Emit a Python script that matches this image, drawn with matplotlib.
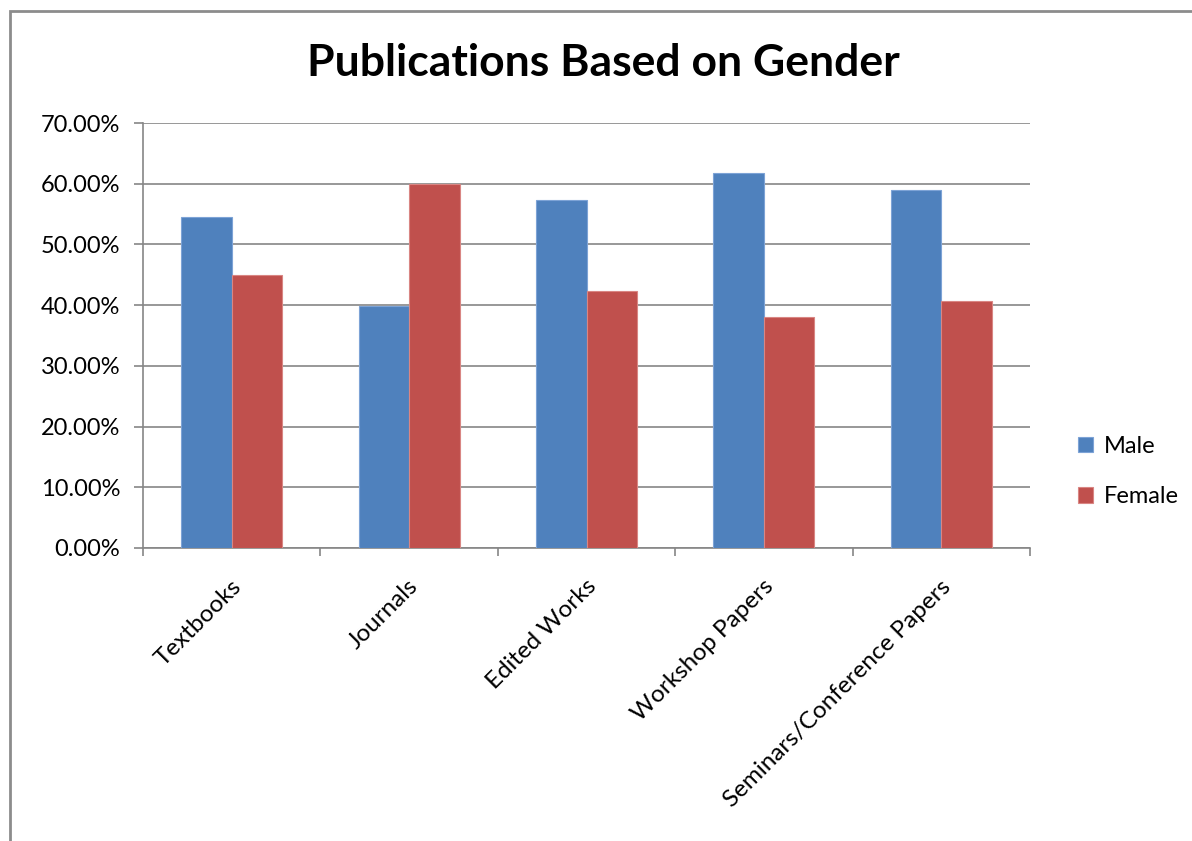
import matplotlib
matplotlib.use("Agg")
import matplotlib.pyplot as plt
import numpy as np
from matplotlib.patches import Rectangle
from matplotlib.ticker import FuncFormatter, MultipleLocator

categories = ["Textbooks", "Journals", "Edited Works", "Workshop Papers", "Seminars/Conference Papers"]
male = [54.6, 39.8, 57.4, 61.7, 59.0]
female = [45.0, 60.0, 42.3, 38.0, 40.7]

BLUE = "#4F81BD"
RED = "#C0504D"
GRID = "#868686"

plt.rcParams["font.family"] = ["Lato", "DejaVu Sans"]

fig = plt.figure(figsize=(11.92, 8.41), dpi=100)
W, H = 1192, 841
ax = fig.add_axes([143 / W, 1 - 548 / H, (1030 - 143) / W, (548 - 123) / H])

# outer chart border
fig.patches.append(Rectangle((10 / W, -0.01), 1.2, 1 - 11 / H + 0.01, transform=fig.transFigure,
                             fill=False, edgecolor="#8c8c8c", linewidth=2))

x = np.arange(len(categories))
bw = 0.285
ax.bar(x - bw / 2, male, bw, color=BLUE, edgecolor="#7DA3D6", linewidth=0.8, label="Male", zorder=3)
ax.bar(x + bw / 2, female, bw, color=RED, edgecolor="#D98683", linewidth=0.8, label="Female", zorder=3)

ax.set_xlim(-0.5, len(categories) - 0.5)
ax.set_ylim(0, 70)
ax.yaxis.set_major_locator(MultipleLocator(10))
ax.yaxis.set_major_formatter(FuncFormatter(lambda v, p: f"{v:.2f}%"))
ax.grid(axis="y", color=GRID, linewidth=1.2, zorder=0)

for s in ["top", "right"]:
    ax.spines[s].set_visible(False)
for s in ["left", "bottom"]:
    ax.spines[s].set_color(GRID)
    ax.spines[s].set_linewidth(1.2)

ax.set_xticks(np.arange(-0.5, len(categories), 1.0))
ax.set_xticklabels([])
ax.tick_params(axis="x", direction="out", length=6, color=GRID, width=1.2)
ax.tick_params(axis="y", direction="out", length=6.5, color=GRID, width=1.2, labelsize=17, pad=10)

# rotated category labels, right end just under the group centre
for i, c in enumerate(categories):
    ax.annotate(c, xy=(i, 0), xycoords="data", xytext=(-1, -20), textcoords="offset points",
                rotation=45, ha="right", va="top", rotation_mode="anchor", fontsize=17.5)

fig.text(603 / W, 1 - 63 / H, "Publications Based on Gender", ha="center", va="center",
         fontsize=32, fontweight="bold")

ax.legend(loc="center left", bbox_to_anchor=(1.03, 0.18), frameon=False, fontsize=17,
          handlelength=0.65, handleheight=0.65, handletextpad=0.45, labelspacing=1.25)

fig.savefig("out.png", dpi=100, facecolor="white")
